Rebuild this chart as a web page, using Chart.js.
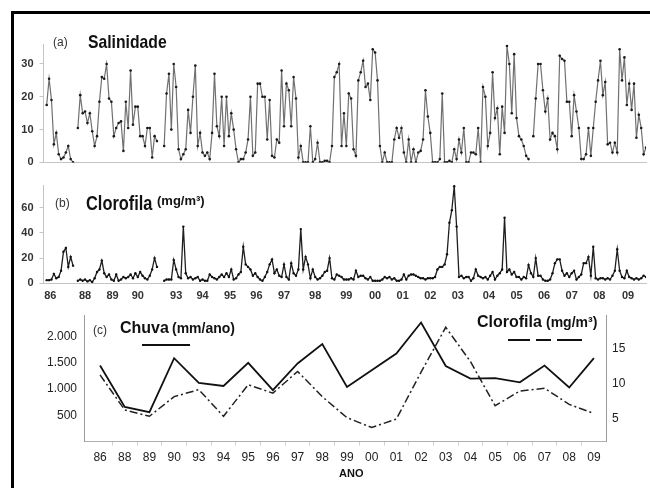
<!DOCTYPE html>
<html>
<head>
<meta charset="utf-8">
<script src="https://cdn.jsdelivr.net/npm/chart.js@4.4.1/dist/chart.umd.min.js"></script>
<style>
  body { margin: 0; width: 650px; height: 488px; position: relative; overflow: hidden; background: #fff;
         font-family: Arial, "Liberation Sans", sans-serif; }
  canvas { position: absolute; left: 0; }
  .frame { position: absolute; background: #000; }
  .lbl { position: absolute; white-space: nowrap; line-height: 1; color: #111; }
  .b { font-weight: bold; }
  .key { position: absolute; height: 2px; background: #111; }
</style>
</head>
<body>
<div class="frame" style="left:11px;top:11px;width:639px;height:3px"></div>
<div class="frame" style="left:11px;top:11px;width:3px;height:477px"></div>

<canvas id="salChart" width="650" height="145" style="top:30px"></canvas>
<canvas id="cloChart" width="650" height="140" style="top:170px"></canvas>
<canvas id="anoChart" width="650" height="188" style="top:300px"></canvas>

<!-- panel headings -->
<div class="lbl" style="left:53px;top:36px;font-size:12px;color:#333">(a)</div>
<div class="lbl b" style="left:88px;top:33px;font-size:18.5px;transform:scaleX(0.85);transform-origin:left">Salinidade</div>

<div class="lbl" style="left:55px;top:197px;font-size:12px;color:#333">(b)</div>
<div class="lbl b" style="left:86px;top:192px;font-size:21px;transform:scaleX(0.78);transform-origin:left">Clorofila</div>
<div class="lbl b" style="left:157px;top:194px;font-size:13px">(mg/m³)</div>

<div class="lbl" style="left:93px;top:324px;font-size:12px;color:#333">(c)</div>
<div class="lbl b" style="left:120px;top:320px;font-size:16px">Chuva</div>
<div class="lbl b" style="left:172px;top:321px;font-size:14px">(mm/ano)</div>
<div class="key" style="left:142px;top:344px;width:48px"></div>

<div class="lbl b" style="left:477px;top:314px;font-size:16px">Clorofila</div>
<div class="lbl b" style="left:546px;top:315px;font-size:14px">(mg/m³)</div>
<div class="key" style="left:508px;top:339px;width:22px"></div>
<div class="key" style="left:536px;top:339px;width:15px"></div>
<div class="key" style="left:557px;top:339px;width:25px"></div>

<div class="lbl b" style="left:339px;top:468px;font-size:11px">ANO</div>

<script>
// monthly samples, one entry per sampling step; null = no sampling
const salinidade = [
  17.5, 25.5, 19, 5.5, 9, 2.5, 1, 1.5, 3, 5, 1, 0,
  null,
  10.5, 20.5, 15, 15.5, 12, 15, 9.5, 5, 8, 18.5, 26, 25.5,
  30, 19.5, 18.5, 8, 10.5, 12, 12.5, 3.5, 18.5, 10.5, 28, 11.5,
  17, 17, 8, 8, 5, 10.5, 10.5, 1.5, 8, 6.5,
  null, null,
  5, 21, 27, 10, 30, 23, 4, 1, 2.5, 4, 16, 9,
  20, 29.5, 5, 9, 3, 2, 3, 1, 9, 27, 11, 8,
  20, 5, 20, 8, 15, 10, 4, 0, 1, 1, 3, 7,
  20, 2, 3, 24, 24, 20, 20, 7, 19, 2, 1.5, 7,
  6, 28, 11, 24, 22, 11, 26, 19.5, 1.5, 5, 0, 0,
  0, 11, 0, 1, 6, 0, 0, 0.5, 0.5, 0, 5, 26,
  27.5, 30, 5, 15, 5, 21, 19.5, 4, 2, 25, 27.5, 31,
  23, 24, 19, 34.5, 33.5, 25, 5, 0, 3, 0, 0, 0,
  7, 10.5, 7.5, 10.5, 3, 0, 7, 0, 4, 0, 3, 3.5,
  7, 22, 14, 9, 0, 0, 0, 1, 21, 0, 0, 0.5,
  0, 4, 1, 7, 3, 10.5, 0, 0, 3, 3, 2.5, 10.5,
  0, 23, 20, 5, 9, 27.5, 13.5, 16.5, 2.5, 17, 9, 35.5,
  30, 15, 33, 13.5, 8, 7, 5, 2, 1,
  null,
  8, 19.5, 30, 30, 22, 15.5, 19.5, 7, 9, 8, 4, 32.5,
  31.5, 31, 18.5, 18.5, 8, 20.5, 15.5, 10.5, 1, 1, 2.5, 10.5,
  2, 10.5, 18.5, 25, 31, 20.5, 24.5, 5.5, 6, 3, 6, 3,
  34.5, 25, 32, 17.5, 24, 16, 24, 7.5, 14.5, 10.5, 2.5, 4.5
]

const clorofila = [
  2.5, 2.5, 3, 7.5, 4, 5, 10, 25, 28, 13, 21, 14,
  null,
  2, 3, 2, 3, 1.5, 2.5, 1, 4, 9, 11, 18, 8,
  5, 7, 3, 2, 7, 2, 3, 5, 4, 5, 7, 4,
  8, 5, 9, 6, 4, 3, 6, 11, 20, 13,
  null, null,
  2, 3, 3, 3, 18.5, 11, 5, 4, 45, 8, 4, 5,
  3, 4, 5, 2, 3, 2, 2, 7, 5, 4, 3, 5,
  7, 5, 8, 5, 11, 3, 4, 7, 9, 29, 15, 13,
  11, 6, 8, 5, 3, 2, 5, 9, 15, 19, 8, 11,
  6, 5, 15, 5, 3, 16, 8, 6, 11, 43, 11, 21,
  15, 4, 11, 5, 3, 4, 6, 9, 10, 20, 4, 3,
  7, 6, 5, 3, 3, 3, 4, 3, 10, 5, 6, 6,
  4, 3, 5, 2, 2, 2, 2, 3, 5, 4, 5, 3,
  4, 2, 2, 3, 7, 3, 6, 7, 7, 6, 5, 4,
  4, 3, 4, 4, 4, 5, 11, 13, 13, 15, 23, 48,
  58, 77, 45, 5, 6, 4, 5, 5, 2, 4, 11, 6,
  5, 4, 5, 3, 6, 9, 3, 6, 8, 11, 52, 9,
  11, 7, 9, 5, 5, 3, 5, 4, 14.5, 8, 5, 20,
  6, 6, 3, 2, 2, 3, 8, 16, 19, 19, 10, 6,
  8, 5, 8, 10, 3, 5, 7, 16, 16, 21, 6, 29,
  4, 3, 4, 4, 3, 4, 3, 6, 10, 27, 10, 5,
  4, 10, 5, 4, 3, 4, 3, 4, 6, 5
]

// year labels on the monthly axis and the sample where each one sits
const anosMensais = ["86", "88", "89", "90", "93", "94", "95", "96", "97", "98", "99",
                     "00", "01", "02", "03", "04", "05", "06", "07", "08", "09"]
const anosAmostra = [1.5, 16, 27.5, 38, 54, 65, 76.5, 87.5, 99, 112, 125,
                     137, 148.5, 160, 171.5, 184.5, 196, 207.5, 219, 230.5, 242.5]

const salTicks = [0, 10, 20, 30]
const cloTicks = [0, 20, 40, 60]

// yearly totals
const anos = ["86", "88", "89", "90", "93", "94", "95", "96", "97", "98", "99",
              "00", "01", "02", "03", "04", "05", "06", "07", "08", "09"]
const chuvaAnual = [1450, 660, 560, 1590, 1120, 1060, 1500, 980, 1490, 1860, 1040,
                    1360, 1680, 2270, 1440, 1200, 1210, 1130, 1450, 1030, 1590]
const clorofilaAnual = [11.2, 6.2, 5.3, 8.1, 9.1, 5.3, 9.8, 8.6, 11.7, 8.1, 5.1,
                        3.7, 4.9, 11.6, 18.0, 13.1, 6.8, 8.9, 9.3, 7.0, 5.7]
const chuvaTicks = [500, 1000, 1500, 2000]
const cloAnualTicks = [5, 10, 15]


const FONT = 'Arial, "Liberation Sans", sans-serif'
const axisGray = "#c4c4c4"

const toPoints = (arr) => arr.map((v, i) => ({ x: i, y: v }))
const fixedTicks = (values) => (s) => { s.ticks = values.map(v => ({ value: v })) }

const baseOptions = (padTop) => ({
    responsive: false,
    animation: false,
    events: [],
    layout: { padding: { top: padTop, right: 0, bottom: 0, left: 0 } },
    plugins: { legend: { display: false }, tooltip: { enabled: false } }
})

/* (a) salinity */
new Chart(document.querySelector("#salChart"), {
    type: "line",
    data: {
        datasets: [{
            data: toPoints(salinidade),
            borderColor: "#707070",
            borderWidth: 1.2,
            pointRadius: 1.3,
            pointBorderWidth: 0,
            pointBackgroundColor: "#1a1a1a",
            tension: 0,
            spanGaps: false
        }]
    },
    options: {
        ...baseOptions(14.3),
        scales: {
            x: {
                type: "linear", min: -1.33, max: 250,
                ticks: { display: false },
                grid: { display: false },
                border: { color: axisGray, dash: [2, 1] },
                afterFit: (s) => { s.height = 10.5 }
            },
            y: {
                min: 0, max: 36,
                afterBuildTicks: fixedTicks(salTicks),
                ticks: { padding: 6, color: "#333", font: { family: FONT, size: 11, weight: "bold" } },
                grid: { drawOnChartArea: false, tickLength: 4, color: axisGray },
                border: { color: axisGray },
                afterFit: (s) => { s.width = 43.5 }
            }
        }
    }
})

/* (b) chlorophyll, monthly */
new Chart(document.querySelector("#cloChart"), {
    type: "line",
    data: {
        datasets: [{
            data: toPoints(clorofila),
            borderColor: "#1e1e1e",
            borderWidth: 1.3,
            pointRadius: 1.2,
            pointBorderWidth: 0,
            pointBackgroundColor: "#111",
            tension: 0,
            spanGaps: false
        }]
    },
    options: {
        ...baseOptions(15),
        scales: {
            x: {
                type: "linear", min: -1.33, max: 250,
                afterBuildTicks: fixedTicks(anosAmostra),
                ticks: {
                    autoSkip: false, maxRotation: 0, padding: 6, color: "#333",
                    font: { family: FONT, size: 11, weight: "bold" },
                    callback: (v, i) => anosMensais[i]
                },
                grid: { display: false, drawTicks: false },
                border: { color: axisGray },
                afterFit: (s) => { s.height = 26.7 }
            },
            y: {
                min: 0, max: 78,
                afterBuildTicks: fixedTicks(cloTicks),
                ticks: { padding: 6, color: "#333", font: { family: FONT, size: 11, weight: "bold" } },
                grid: { drawOnChartArea: false, tickLength: 4, color: axisGray },
                border: { color: axisGray },
                afterFit: (s) => { s.width = 43.5 }
            }
        }
    }
})

/* (c) yearly rain and chlorophyll */
const milhar = (v) => v >= 1000 ? Math.floor(v / 1000) + "." + String(v % 1000).padStart(3, "0") : String(v)

new Chart(document.querySelector("#anoChart"), {
    type: "line",
    data: {
        datasets: [
            {
                data: toPoints(chuvaAnual),
                yAxisID: "y",
                borderColor: "#111",
                borderWidth: 1.8,
                pointRadius: 0,
                tension: 0
            },
            {
                data: toPoints(clorofilaAnual),
                yAxisID: "y2",
                borderColor: "#222",
                borderWidth: 1.5,
                borderDash: [8, 3, 2, 3],
                pointRadius: 0,
                tension: 0
            }
        ]
    },
    options: {
        ...baseOptions(15),
        scales: {
            x: {
                type: "linear", min: -0.65, max: 20.49,
                afterBuildTicks: (s) => {
                    const t = []
                    anos.forEach((a, i) => {
                        t.push({ value: i })
                        if (i < anos.length - 1) t.push({ value: i + 0.5 })
                    })
                    s.ticks = t
                },
                ticks: {
                    autoSkip: false, maxRotation: 0, padding: 5, color: "#222",
                    font: { family: FONT, size: 12 },
                    callback: (v) => Number.isInteger(v) ? anos[v] : ""
                },
                grid: {
                    drawOnChartArea: false, tickLength: 4,
                    color: (ctx) => ctx.tick && !Number.isInteger(ctx.tick.value) ? "#d0d0d0" : "rgba(0,0,0,0)"
                },
                border: { color: "#b0b0b0" },
                afterFit: (s) => { s.height = 46.5 }
            },
            y: {
                position: "left", min: 0, max: 2414,
                afterBuildTicks: fixedTicks(chuvaTicks),
                ticks: { padding: 7, color: "#222", font: { family: FONT, size: 12 }, callback: (v) => milhar(v) },
                grid: { display: false, drawTicks: false },
                border: { color: "#9a9a9a" },
                afterFit: (s) => { s.width = 84 }
            },
            y2: {
                position: "right", min: 1.7, max: 19.75,
                afterBuildTicks: fixedTicks(cloAnualTicks),
                ticks: { padding: 6, color: "#222", font: { family: FONT, size: 12 } },
                grid: { display: false, drawTicks: false },
                border: { color: "#9a9a9a" },
                afterFit: (s) => { s.width = 44 }
            }
        }
    }
})
</script>
</body>
</html>
